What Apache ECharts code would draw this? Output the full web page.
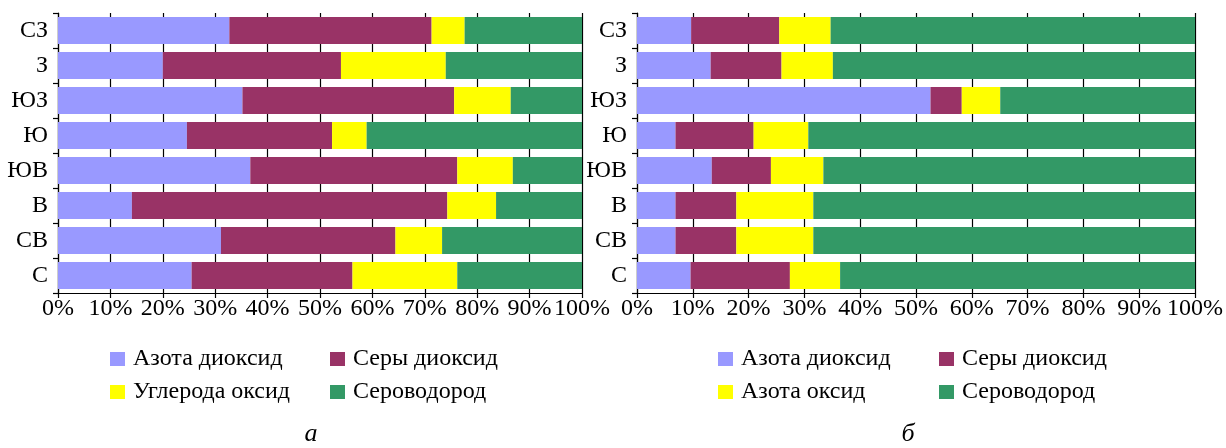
<!DOCTYPE html>
<html>
<head>
<meta charset="utf-8">
<script src="https://cdn.jsdelivr.net/npm/echarts@6/dist/echarts.min.js"></script>
<style>
html,body{margin:0;padding:0;background:#fff;}
#c{width:1226px;height:448px;}
</style>
</head>
<body>
<div id="c"></div>
<script>
// categories bottom-to-top (ECharts category y-axis order)
const categories = ['С', 'СВ', 'В', 'ЮВ', 'Ю', 'ЮЗ', 'З', 'СЗ'];
const xTicks = [0, 10, 20, 30, 40, 50, 60, 70, 80, 90, 100];

// Chart а
const seriesNamesA = ['Азота диоксид', 'Серы диоксид', 'Углерода оксид', 'Сероводород'];
const a_no2 = [25.5, 31.1, 14.1, 36.7, 24.6, 35.2, 20.0, 32.7];
const a_so2 = [30.7, 33.3, 60.2, 39.5, 27.7, 40.4, 34.0, 38.6];
const a_co  = [20.0,  8.9,  9.3, 10.6,  6.6, 10.8, 20.0,  6.3];
const a_h2s = [23.8, 26.7, 16.4, 13.2, 41.1, 13.6, 26.0, 22.4];

// Chart б
const seriesNamesB = ['Азота диоксид', 'Серы диоксид', 'Азота оксид', 'Сероводород'];
const b_no2 = [ 9.6,  6.9,  6.9, 13.4,  6.9, 52.6, 13.2,  9.7];
const b_so2 = [17.8, 10.9, 10.9, 10.6, 14.0,  5.6, 12.7, 15.8];
const b_no  = [ 9.0, 13.8, 13.8,  9.4,  9.8,  6.9,  9.2,  9.2];
const b_h2s = [63.6, 68.4, 68.4, 66.6, 69.3, 34.9, 64.9, 65.3];

const captions = ['а', 'б'];

const colors = ['#9999FF', '#993366', '#FFFF00', '#339966'];
const FONT = 'Liberation Serif';
const FS = 24;

function xAxisCfg(gi) {
  return {
    gridIndex: gi, type: 'value', min: xTicks[0], max: xTicks[xTicks.length - 1], interval: 10,
    axisLine: {show: true, lineStyle: {color: '#000', width: 1.2}},
    axisTick: {show: true, inside: false, length: 5, lineStyle: {color: '#000', width: 1.2}},
    axisLabel: {formatter: '{value}%', color: '#000', fontFamily: FONT, fontSize: FS, margin: 4},
    splitLine: {show: true, lineStyle: {color: '#000', width: 1.2}}
  };
}
function yAxisCfg(gi) {
  return {
    gridIndex: gi, type: 'category', data: categories,
    axisLine: {show: true, lineStyle: {color: '#000', width: 1.2}},
    axisTick: {show: true, inside: false, length: 5, lineStyle: {color: '#000', width: 1.2}},
    axisLabel: {color: '#000', fontFamily: FONT, fontSize: FS, margin: 10},
    splitLine: {show: false}
  };
}
function bars(names, arrays, gi, stack) {
  return arrays.map((arr, i) => ({
    name: names[i], type: 'bar', stack: stack, data: arr,
    xAxisIndex: gi, yAxisIndex: gi, barWidth: 27,
    itemStyle: {color: colors[i]}, emphasis: {disabled: true}, animation: false
  }));
}
function legendItem(name, left, top) {
  return {
    data: [name], left: left, top: top, padding: 0, icon: 'rect',
    itemWidth: 15, itemHeight: 14, selectedMode: false,
    textStyle: {fontFamily: FONT, fontSize: FS, color: '#000', lineHeight: 26, padding: [0, 0, 0, 3]}
  };
}

const row1 = 346, row2 = 379;
const legends = [
  legendItem(seriesNamesA[0], 110, row1),
  legendItem(seriesNamesA[1], 330, row1),
  legendItem(seriesNamesA[2], 110, row2),
  legendItem(seriesNamesA[3], 330, row2),
  legendItem(seriesNamesB[0], 718, row1),
  legendItem(seriesNamesB[1], 939, row1),
  legendItem(seriesNamesB[2], 718, row2),
  legendItem(seriesNamesB[3], 939, row2)
];

const chart = echarts.init(document.getElementById('c'), null, {renderer: 'canvas'});
chart.setOption({
  animation: false,
  backgroundColor: '#fff',
  grid: [
    {left: 58, top: 13, width: 524, height: 280},
    {left: 637, top: 13, width: 562, height: 280}
  ],
  xAxis: [xAxisCfg(0), xAxisCfg(1)],
  yAxis: [yAxisCfg(0), yAxisCfg(1)],
  legend: legends,
  series: [].concat(
    bars(seriesNamesA, [a_no2, a_so2, a_co, a_h2s], 0, 'a'),
    bars(seriesNamesB, [b_no2, b_so2, b_no, b_h2s], 1, 'b')
  ),
  graphic: [
    {type: 'text', x: 311, y: 434, style: {text: captions[0], font: 'italic 26px "Liberation Serif"', fill: '#000', textAlign: 'center', textVerticalAlign: 'middle'}},
    {type: 'text', x: 908, y: 434, style: {text: captions[1], font: 'italic 26px "Liberation Serif"', fill: '#000', textAlign: 'center', textVerticalAlign: 'middle'}}
  ]
});
</script>
</body>
</html>
